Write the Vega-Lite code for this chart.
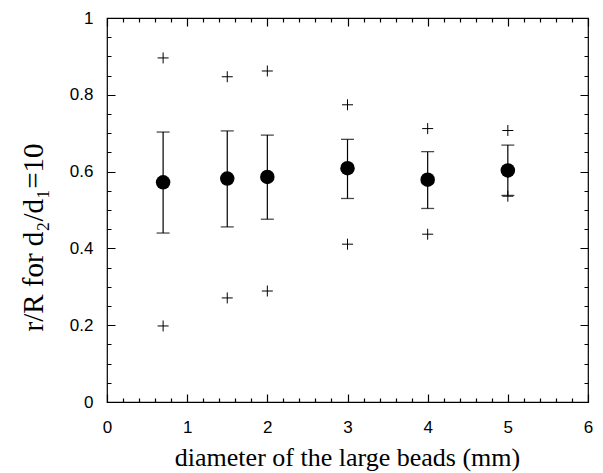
{
  "$schema": "https://vega.github.io/schema/vega-lite/v6.json",
  "width": 481,
  "height": 384,
  "autosize": "none",
  "padding": {"left": 107, "top": 18, "right": 15, "bottom": 71},
  "background": "white",
  "data": {
    "values": [
      {"x": 0.7, "mean": 0.572, "lo": 0.440, "hi": 0.703, "mn": 0.198, "mx": 0.896},
      {"x": 1.5, "mean": 0.582, "lo": 0.456, "hi": 0.706, "mn": 0.271, "mx": 0.847},
      {"x": 2.0, "mean": 0.586, "lo": 0.476, "hi": 0.695, "mn": 0.289, "mx": 0.862},
      {"x": 3.0, "mean": 0.609, "lo": 0.530, "hi": 0.684, "mn": 0.411, "mx": 0.774},
      {"x": 4.0, "mean": 0.579, "lo": 0.504, "hi": 0.652, "mn": 0.437, "mx": 0.712},
      {"x": 5.0, "mean": 0.603, "lo": 0.538, "hi": 0.669, "mn": 0.536, "mx": 0.707}
    ]
  },
  "layer": [
    {
      "mark": {"type": "rule", "color": "black", "strokeWidth": 1.2},
      "encoding": {
        "x": {"field": "x", "type": "quantitative",
          "scale": {"domain": [0, 6], "nice": false, "zero": false},
          "axis": {"orient": "bottom", "values": [0, 1, 2, 3, 4, 5, 6], "ticks": false, "labelPadding": 17, "labelFlush": false, "domain": false,
            "grid": true, "gridColor": "black", "gridWidth": 1.2, "gridOpacity": 1, "gridDash": [8, 368],
            "title": "diameter of the large beads (mm)", "titleX": 240, "titleY": 63, "titleBaseline": "alphabetic", "titleAnchor": "middle", "titleAlign": "center"}},
        "y": {"field": "lo", "type": "quantitative",
          "scale": {"domain": [0, 1], "nice": false, "zero": false},
          "axis": {"orient": "left", "values": [0, 0.2, 0.4, 0.6, 0.8, 1], "ticks": false, "labelPadding": 14, "labelFlush": false, "domain": false,
            "grid": true, "gridColor": "black", "gridWidth": 1.2, "gridOpacity": 1, "gridDash": [8, 465],
            "labelExpr": "datum.value == 0 ? '0' : datum.value == 1 ? '1' : format(datum.value, '.1f')",
            "title": "r/R  for  d₂/d₁=10", "titleFontSize": 29, "titleX": -65, "titleY": 219, "titleAngle": -90, "titleBaseline": "alphabetic", "titleAlign": "center"}},
        "y2": {"field": "hi"}
      }
    },
    {
      "mark": {"type": "tick", "orient": "horizontal", "color": "black", "size": 13, "thickness": 1.3},
      "encoding": {
        "x": {"field": "x", "type": "quantitative",
          "scale": {"domain": [0, 6], "nice": false, "zero": false},
          "axis": {"orient": "top", "values": [0.2, 0.4, 0.6, 0.8, 1.2, 1.4, 1.6, 1.8, 2.2, 2.4, 2.6, 2.8, 3.2, 3.4, 3.6, 3.8, 4.2, 4.4, 4.6, 4.8, 5.2, 5.4, 5.6, 5.8], "ticks": false, "labels": false, "domain": false,
            "grid": true, "gridColor": "black", "gridWidth": 1.2, "gridOpacity": 1, "gridDash": [4, 376], "title": null}},
        "y": {"field": "lo", "type": "quantitative",
          "scale": {"domain": [0, 1], "nice": false, "zero": false},
          "axis": {"orient": "right", "values": [0.05, 0.1, 0.15, 0.25, 0.3, 0.35, 0.45, 0.5, 0.55, 0.65, 0.7, 0.75, 0.85, 0.9, 0.95], "ticks": false, "labels": false, "domain": false,
            "grid": true, "gridColor": "black", "gridWidth": 1.2, "gridOpacity": 1, "gridDash": [4, 473], "title": null}}
      }
    },
    {
      "mark": {"type": "tick", "orient": "horizontal", "color": "black", "size": 13, "thickness": 1.3},
      "encoding": {
        "x": {"field": "x", "type": "quantitative", "axis": null},
        "y": {"field": "hi", "type": "quantitative", "axis": null}
      }
    },
    {
      "mark": {"type": "point", "shape": "M-1,0L1,0M0,-1L0,1", "filled": false, "color": "black", "strokeWidth": 1, "size": 121, "opacity": 1},
      "encoding": {
        "x": {"field": "x", "type": "quantitative", "axis": null},
        "y": {"field": "mn", "type": "quantitative", "axis": null}
      }
    },
    {
      "mark": {"type": "point", "shape": "M-1,0L1,0M0,-1L0,1", "filled": false, "color": "black", "strokeWidth": 1, "size": 121, "opacity": 1},
      "encoding": {
        "x": {"field": "x", "type": "quantitative", "axis": null},
        "y": {"field": "mx", "type": "quantitative", "axis": null}
      }
    },
    {
      "mark": {"type": "point", "shape": "circle", "filled": true, "color": "black", "size": 210, "opacity": 1},
      "encoding": {
        "x": {"field": "x", "type": "quantitative", "axis": null},
        "y": {"field": "mean", "type": "quantitative", "axis": null}
      }
    }
  ],
  "resolve": {"axis": {"x": "independent", "y": "independent"}},
  "config": {
    "view": {"stroke": "black", "strokeWidth": 1.2},
    "axis": {
      "tickColor": "black", "tickWidth": 1.2,
      "labelColor": "black", "labelFont": "Liberation Sans", "labelFontSize": 17,
      "titleColor": "black", "titleFont": "Liberation Serif", "titleFontSize": 26, "titleFontWeight": "normal"
    }
  }
}
